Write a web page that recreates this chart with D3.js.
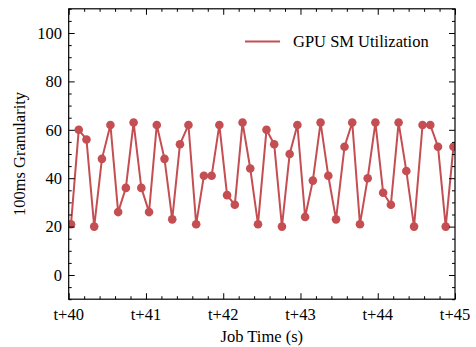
<!DOCTYPE html>
<html>
<head>
<meta charset="utf-8">
<script src="https://cdn.jsdelivr.net/npm/d3@7"></script>
<style>
  html, body { margin: 0; padding: 0; background: #fff; }
  svg { display: block; }
  text { font-family: "Liberation Serif", "DejaVu Serif", serif; fill: #000; }
</style>
</head>
<body>
<svg id="chart" width="476" height="347"></svg>
<script>
// Sample timestamps (seconds) and SM utilization (%) sampled at ~100 ms
const times = [
  40.03, 40.13, 40.23, 40.33, 40.43, 40.54, 40.64, 40.74, 40.84, 40.94,
  41.04, 41.14, 41.24, 41.34, 41.44, 41.55, 41.65, 41.75, 41.85, 41.95,
  42.05, 42.15, 42.25, 42.35, 42.45, 42.56, 42.66, 42.76, 42.86, 42.96,
  43.06, 43.16, 43.26, 43.36, 43.46, 43.57, 43.67, 43.77, 43.87, 43.97,
  44.07, 44.17, 44.27, 44.37, 44.47, 44.58, 44.68, 44.78, 44.88, 44.98
];
const smUtil = [
  21, 60, 56, 20, 48, 62, 26, 36, 63, 36,
  26, 62, 48, 23, 54, 62, 21, 41, 41, 62,
  33, 29, 63, 44, 21, 60, 54, 20, 50, 62,
  24, 39, 63, 41, 23, 53, 63, 21, 40, 63,
  34, 29, 63, 43, 20, 62, 62, 53, 20, 53
];
const xTickValues = [40, 41, 42, 43, 44, 45];
const xTickLabels = ["t+40", "t+41", "t+42", "t+43", "t+44", "t+45"];
const yTickValues = [0, 20, 40, 60, 80, 100];
const seriesName = "GPU SM Utilization";

const data = times.map((t, i) => ({ t, v: smUtil[i] }));

const svg = d3.select("#chart");
const margin = { left: 68.7, right: 476 - 455, top: 8.8, bottom: 347 - 299.2 };
const W = 476, H = 347;
const x = d3.scaleLinear().domain([40, 45]).range([margin.left, W - margin.right]);
const y = d3.scaleLinear().domain([-10, 110]).range([H - margin.bottom, margin.top]);
const color = "#c44e52";
const fontSize = 16.5;

svg.append("defs").append("clipPath").attr("id", "plot-clip")
  .append("rect")
  .attr("x", x(40)).attr("y", y(110))
  .attr("width", x(45) - x(40)).attr("height", y(-10) - y(110));

const plot = svg.append("g").attr("clip-path", "url(#plot-clip)");

plot.append("path")
  .datum(data)
  .attr("fill", "none")
  .attr("stroke", color)
  .attr("stroke-width", 2)
  .attr("d", d3.line().x(d => x(d.t)).y(d => y(d.v)));

plot.selectAll("circle")
  .data(data)
  .join("circle")
  .attr("cx", d => x(d.t))
  .attr("cy", d => y(d.v))
  .attr("r", 4.3)
  .attr("fill", color);

// Inward-pointing ticks on all four sides
const xMinor = d3.range(40, 45.001, 0.2).filter(v => Math.abs(v - Math.round(v)) > 1e-6);
const yMinor = d3.range(-10, 110.001, 5).filter(v => v % 20 !== 0);
const majorLen = 6, minorLen = 3;

function styleAxis(g) {
  g.select(".domain").remove();
  g.selectAll(".tick line").attr("stroke", "#000").attr("stroke-width", 1);
}

// bottom
svg.append("g").attr("transform", `translate(0,${y(-10)})`)
  .call(d3.axisTop(x).tickValues(xTickValues).tickSize(majorLen).tickFormat(""))
  .call(styleAxis);
svg.append("g").attr("transform", `translate(0,${y(-10)})`)
  .call(d3.axisTop(x).tickValues(xMinor).tickSize(minorLen).tickFormat(""))
  .call(styleAxis);
// top
svg.append("g").attr("transform", `translate(0,${y(110)})`)
  .call(d3.axisBottom(x).tickValues(xTickValues).tickSize(majorLen).tickFormat(""))
  .call(styleAxis);
svg.append("g").attr("transform", `translate(0,${y(110)})`)
  .call(d3.axisBottom(x).tickValues(xMinor).tickSize(minorLen).tickFormat(""))
  .call(styleAxis);
// left
svg.append("g").attr("transform", `translate(${x(40)},0)`)
  .call(d3.axisRight(y).tickValues(yTickValues).tickSize(majorLen).tickFormat(""))
  .call(styleAxis);
svg.append("g").attr("transform", `translate(${x(40)},0)`)
  .call(d3.axisRight(y).tickValues(yMinor).tickSize(minorLen).tickFormat(""))
  .call(styleAxis);
// right
svg.append("g").attr("transform", `translate(${x(45)},0)`)
  .call(d3.axisLeft(y).tickValues(yTickValues).tickSize(majorLen).tickFormat(""))
  .call(styleAxis);
svg.append("g").attr("transform", `translate(${x(45)},0)`)
  .call(d3.axisLeft(y).tickValues(yMinor).tickSize(minorLen).tickFormat(""))
  .call(styleAxis);

// frame
svg.append("rect")
  .attr("x", x(40)).attr("y", y(110))
  .attr("width", x(45) - x(40)).attr("height", y(-10) - y(110))
  .attr("fill", "none").attr("stroke", "#000").attr("stroke-width", 1.2);

// tick labels
svg.append("g").selectAll("text")
  .data(xTickValues)
  .join("text")
  .attr("x", d => x(d))
  .attr("y", 319.5)
  .attr("text-anchor", "middle")
  .attr("font-size", fontSize)
  .text((d, i) => xTickLabels[i]);

svg.append("g").selectAll("text")
  .data(yTickValues)
  .join("text")
  .attr("x", 62)
  .attr("y", d => y(d))
  .attr("dy", "0.35em")
  .attr("text-anchor", "end")
  .attr("font-size", fontSize)
  .text(d => d);

// axis titles
svg.append("text")
  .attr("x", (x(40) + x(45)) / 2)
  .attr("y", 342)
  .attr("text-anchor", "middle")
  .attr("font-size", fontSize)
  .text("Job Time (s)");

svg.append("text")
  .attr("transform", `translate(25,${(y(-10) + y(110)) / 2}) rotate(-90)`)
  .attr("text-anchor", "middle")
  .attr("font-size", fontSize)
  .text("100ms Granularity");

// legend
const legend = svg.append("g");
legend.append("line")
  .attr("x1", 245).attr("x2", 280)
  .attr("y1", 41.5).attr("y2", 41.5)
  .attr("stroke", color).attr("stroke-width", 2);
legend.append("text")
  .attr("x", 293).attr("y", 41.5)
  .attr("dy", "0.35em")
  .attr("font-size", fontSize)
  .text(seriesName);
</script>
</body>
</html>
